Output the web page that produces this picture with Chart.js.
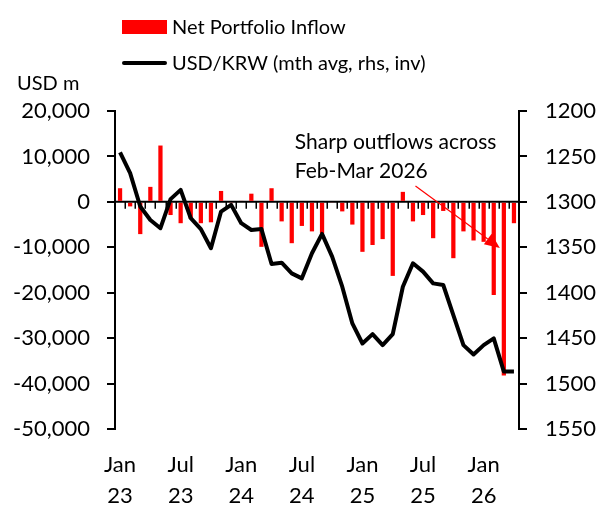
<!DOCTYPE html>
<html>
<head>
<meta charset="utf-8">
<script src="https://cdn.jsdelivr.net/npm/chart.js@4.4.1/dist/chart.umd.min.js"></script>
<style>
html,body{margin:0;padding:0;background:#ffffff;}
#wrap{width:599px;height:505px;position:relative;}
</style>
</head>
<body>
<div id="wrap"><canvas id="c" width="599" height="505"></canvas></div>
<script>
// ---- Data ----
const months = [
  'Jan 23','Feb 23','Mar 23','Apr 23','May 23','Jun 23','Jul 23','Aug 23','Sep 23','Oct 23','Nov 23','Dec 23',
  'Jan 24','Feb 24','Mar 24','Apr 24','May 24','Jun 24','Jul 24','Aug 24','Sep 24','Oct 24','Nov 24','Dec 24',
  'Jan 25','Feb 25','Mar 25','Apr 25','May 25','Jun 25','Jul 25','Aug 25','Sep 25','Oct 25','Nov 25','Dec 25',
  'Jan 26','Feb 26','Mar 26','Apr 26'
];
const netPortfolioInflow = [
  3000, -1000, -7100, 3300, 12400, -2900, -4700, -3700, -4700, -4500, 2400, -300,
  200, 1800, -9900, 3000, -4300, -9100, -5300, -6500, -6900, -200, -2100, -5000,
  -11000, -9500, -8200, -16300, 2200, -4300, -2900, -8000, -2000, -12400, -6500, -8500,
  -8800, -20500, -38200, -4700
];
const usdKrw = [
  1245.6, 1268.4, 1305.1, 1319.9, 1329.0, 1297.0, 1286.8, 1318.0, 1330.0, 1351.0, 1310.7, 1303.3,
  1323.5, 1331.0, 1330.0, 1368.4, 1367.0, 1378.7, 1384.2, 1356.6, 1335.3, 1360.3, 1393.4, 1433.8,
  1455.9, 1445.6, 1457.7, 1445.6, 1393.4, 1367.6, 1376.8, 1389.7, 1391.5, 1424.6, 1457.7, 1468.0,
  1457.7, 1450.3, 1486.8, 1486.8
];
const leftTicks = [20000, 10000, 0, -10000, -20000, -30000, -40000, -50000];
const rightTicks = [1200, 1250, 1300, 1350, 1400, 1450, 1500, 1550];
const seriesNames = ['Net Portfolio Inflow', 'USD/KRW (mth avg, rhs, inv)'];
const unitLabel = 'USD m';
const noteLines = ['Sharp outflows across', 'Feb-Mar 2026'];

const FONT = 'Lato';
const FS = 20;     // legend / unit
const TFS = 22;    // axis tick labels
const NFS = 21;    // annotation
Chart.defaults.font.family = FONT;
Chart.defaults.font.size = TFS;
Chart.defaults.color = '#000000';

const fmt = v => (v < 0 ? '-' : '') + Math.abs(v).toLocaleString('en-US');

const decor = {
  id: 'decor',
  beforeDatasetsDraw(chart) {
    const ctx = chart.ctx, x = chart.scales.x, y = chart.scales.y, a = chart.chartArea;
    const y0 = y.getPixelForValue(0);
    ctx.save();
    ctx.strokeStyle = '#000';
    ctx.lineWidth = 2;
    ctx.beginPath();
    ctx.moveTo(a.left, y0); ctx.lineTo(a.right, y0);
    ctx.stroke();
    ctx.lineWidth = 1.5;
    for (let i = 1; i < months.length; i++) {
      const px = Math.round((x.getPixelForValue(i - 1) + x.getPixelForValue(i)) / 2) + 0.25;
      ctx.beginPath();
      ctx.moveTo(px, y0); ctx.lineTo(px, y0 + 7);
      ctx.stroke();
    }
    ctx.restore();
  },
  afterDraw(chart) {
    const ctx = chart.ctx, x = chart.scales.x, y = chart.scales.y;
    ctx.save();
    ctx.font = FS + 'px ' + FONT;
    ctx.fillStyle = '#000';
    ctx.textBaseline = 'middle';
    ctx.textAlign = 'left';
    // legend
    ctx.fillStyle = '#ff0000';
    ctx.fillRect(122, 20, 45, 14);
    ctx.fillStyle = '#000';
    ctx.fillText(seriesNames[0], 172, 28);
    ctx.strokeStyle = '#000';
    ctx.lineWidth = 4;
    ctx.lineCap = 'round';
    ctx.beginPath(); ctx.moveTo(124, 63); ctx.lineTo(165, 63); ctx.stroke();
    ctx.fillText(seriesNames[1], 172, 64);
    // unit label
    ctx.fillText(unitLabel, 17, 84);
    // annotation
    ctx.font = NFS + 'px ' + FONT;
    const tx = x.getPixelForValue(17.3);
    ctx.fillText(noteLines[0], tx, y.getPixelForValue(13200));
    ctx.fillText(noteLines[1], tx, y.getPixelForValue(6800));
    // arrow
    const sx = x.getPixelForValue(29.25), sy = y.getPixelForValue(3500);
    const ex = x.getPixelForValue(37.6), ey = y.getPixelForValue(-10150);
    const ang = Math.atan2(ey - sy, ex - sx);
    const L = 15, W = 6.5;
    const bx = ex - L * Math.cos(ang), by = ey - L * Math.sin(ang);
    ctx.strokeStyle = '#ff0000';
    ctx.fillStyle = '#ff0000';
    ctx.lineWidth = 1.2;
    ctx.lineCap = 'butt';
    ctx.beginPath(); ctx.moveTo(sx, sy); ctx.lineTo(bx, by); ctx.stroke();
    ctx.beginPath();
    ctx.moveTo(ex, ey);
    ctx.lineTo(bx + W * Math.sin(ang), by - W * Math.cos(ang));
    ctx.lineTo(bx - W * Math.sin(ang), by + W * Math.cos(ang));
    ctx.closePath();
    ctx.fill();
    ctx.restore();
  }
};

new Chart(document.getElementById('c'), {
  type: 'bar',
  data: {
    labels: months,
    datasets: [
      {
        type: 'line',
        label: seriesNames[1],
        data: usdKrw,
        yAxisID: 'y2',
        borderColor: '#000000',
        backgroundColor: '#000000',
        borderWidth: 4,
        pointRadius: 0,
        tension: 0,
        borderJoinStyle: 'round',
        borderCapStyle: 'butt',
        order: 0
      },
      {
        type: 'bar',
        label: seriesNames[0],
        data: netPortfolioInflow,
        yAxisID: 'y',
        backgroundColor: '#ff0000',
        borderWidth: 0,
        barPercentage: 0.42,
        categoryPercentage: 1.0,
        order: 1
      }
    ]
  },
  options: {
    responsive: false,
    animation: false,
    devicePixelRatio: 1,
    layout: { padding: { top: 111, left: 0, right: 0, bottom: 0 } },
    plugins: { legend: { display: false }, tooltip: { enabled: false }, title: { display: false } },
    scales: {
      x: {
        position: 'bottom',
        grid: { display: false, drawTicks: false },
        border: { display: false },
        ticks: {
          autoSkip: false,
          maxRotation: 0,
          minRotation: 0,
          padding: 20,
          font: { size: TFS, lineHeight: 1.42 },
          callback: function (v, i) {
            const m = months[i];
            return (m.startsWith('Jan') || m.startsWith('Jul')) ? m.split(' ') : '';
          }
        },
        afterFit: s => { s.height = 76; }
      },
      y: {
        position: 'left',
        min: -50000,
        max: 20000,
        afterBuildTicks: s => { s.ticks = leftTicks.map(v => ({ value: v })); },
        ticks: { padding: 17, callback: v => fmt(v) },
        grid: { drawOnChartArea: false, drawTicks: true, tickLength: 8, color: '#000', lineWidth: 2 },
        border: { display: true, color: '#000', width: 2 },
        afterFit: s => { s.width = 115; }
      },
      y2: {
        position: 'right',
        reverse: true,
        min: 1200,
        max: 1550,
        afterBuildTicks: s => { s.ticks = rightTicks.map(v => ({ value: v })); },
        ticks: { padding: 18, callback: v => String(v) },
        grid: { drawOnChartArea: false, drawTicks: true, tickLength: 8, color: '#000', lineWidth: 2 },
        border: { display: true, color: '#000', width: 2 },
        afterFit: s => { s.width = 80; }
      }
    }
  },
  plugins: [decor]
});
</script>
</body>
</html>
